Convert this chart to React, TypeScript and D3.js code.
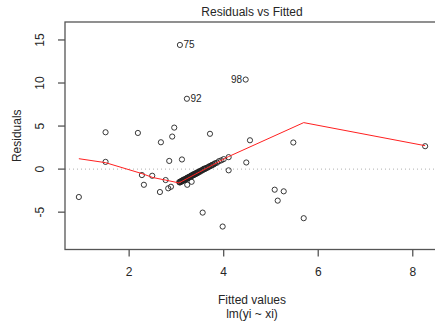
import React from "react";
import * as d3 from "d3";

// Fitted values and residuals
const fitted: number[] = [
  3.074, 3.222, 4.465, 1.501, 2.185, 2.672, 2.911, 2.954, 3.71, 1.501,
  2.848, 3.117, 4.556, 5.473, 8.262, 4.478, 4.105, 4.105, 0.936, 2.27,
  2.312, 2.488, 2.651, 2.772, 2.827, 2.884, 3.555, 3.978, 5.079, 5.27,
  5.143, 5.693, 3.229, 3.322,
  3.06, 3.08, 3.1, 3.11, 3.13, 3.15, 3.16, 3.18, 3.2, 3.22,
  3.24, 3.25, 3.27, 3.29, 3.31, 3.33, 3.35, 3.37, 3.39, 3.41,
  3.43, 3.45, 3.47, 3.5, 3.52, 3.55, 3.57, 3.6, 3.63, 3.66,
  3.69, 3.72, 3.75, 3.78, 3.82, 3.86, 3.9, 3.95, 4.0,
  3.07, 3.09, 3.12, 3.14, 3.17, 3.19, 3.21, 3.23, 3.26, 3.28,
  3.3, 3.32, 3.34, 3.36, 3.38, 3.4, 3.42, 3.44, 3.46, 3.49,
  3.53, 3.58, 3.62, 3.68, 3.74, 3.8,
];
const residuals: number[] = [
  14.42, 8.17, 10.4, 4.28, 4.2, 3.12, 3.78, 4.82, 4.1, 0.84,
  0.95, 1.12, 3.35, 3.09, 2.66, 0.77, 1.39, -0.14, -3.24, -0.69,
  -1.82, -0.77, -2.66, -1.27, -2.23, -2.05, -5.05, -6.67, -2.39, -2.58,
  -3.66, -5.7, -1.82, -1.47,
  -1.5, -1.52, -1.38, -1.45, -1.3, -1.33, -1.2, -1.24, -1.1, -1.12,
  -0.98, -1.04, -0.9, -0.92, -0.78, -0.8, -0.66, -0.69, -0.55, -0.57,
  -0.44, -0.45, -0.32, -0.3, -0.17, -0.15, -0.03, 0.0, 0.14, 0.17,
  0.31, 0.35, 0.48, 0.52, 0.68, 0.75, 0.92, 1.02, 1.16,
  -1.55, -1.44, -1.4, -1.27, -1.26, -1.16, -1.17, -1.0, -0.99, -0.86,
  -0.85, -0.72, -0.74, -0.6, -0.63, -0.5, -0.52, -0.38, -0.4, -0.24,
  -0.14, 0.04, 0.08, 0.25, 0.42, 0.6,
];
// Labelled observations: index into arrays, label, side
const labelIndex: number[] = [0, 1, 2];
const labelText: string[] = ["75", "92", "98"];
const labelSide: string[] = ["right", "right", "left"];

// Smoother (red line)
const smoothX: number[] = [0.936, 1.501, 2.27, 2.503, 2.767, 3.053, 4.101, 5.693, 8.262];
const smoothY: number[] = [1.21, 0.75, -0.52, -0.98, -1.27, -1.6, 1.45, 5.4, 2.72];

const xTicks: number[] = [2, 4, 6, 8];
const yTicks: number[] = [-5, 0, 5, 10, 15];

const title = "Residuals vs Fitted";
const xLabel = "Fitted values";
const subLabel = "lm(yi ~ xi)";
const yLabel = "Residuals";

function ext(lo: number, hi: number, f: number): [number, number] {
  const d = (hi - lo) * f;
  return [lo - d, hi + d];
}

export default function App() {
  const W = 435, H = 323;
  const left = 65, right = 439, top = 22, bottom = 249.5;
  const font = "'Liberation Sans', Arial, sans-serif";
  const txt = "#262626";

  const xDom = ext(d3.min(fitted)!, d3.max(fitted)!, 0.04);
  const yBase = ext(d3.min(residuals)!, d3.max(residuals)!, 0.08);
  const yDom = ext(yBase[0], yBase[1], 0.04);
  const x = d3.scaleLinear().domain(xDom).range([left, right]);
  const y = d3.scaleLinear().domain(yDom).range([bottom, top]);

  const line = d3
    .line<number>()
    .x((_, i) => x(smoothX[i]))
    .y((_, i) => y(smoothY[i]));

  const cx = (left + right) / 2;
  const cy = (top + bottom) / 2;

  return (
    <svg
      width={W}
      height={H}
      style={{ position: "absolute", left: 0, top: 0, background: "#fff" }}
      fontFamily={font}
    >
      <rect x={0} y={0} width={W} height={H} fill="#fff" />
      <text x={cx} y={16} textAnchor="middle" fontSize={12} fill={txt}>
        {title}
      </text>
      {/* zero reference line */}
      <line
        x1={left}
        x2={right}
        y1={y(0)}
        y2={y(0)}
        stroke="#b0b0b0"
        strokeWidth={1}
        strokeDasharray="1,3"
      />
      {/* points */}
      {fitted.map((fx, i) => (
        <circle
          key={i}
          cx={x(fx)}
          cy={y(residuals[i])}
          r={2.6}
          fill="none"
          stroke="#222"
          strokeWidth={0.9}
        />
      ))}
      {/* smoother */}
      <path d={line(smoothX) || ""} fill="none" stroke="#ff2020" strokeWidth={1} />
      {/* point labels */}
      {labelIndex.map((idx, k) => (
        <text
          key={k}
          x={x(fitted[idx]) + (labelSide[k] === "right" ? 3.5 : -3.5)}
          y={y(residuals[idx]) + 3.5}
          textAnchor={labelSide[k] === "right" ? "start" : "end"}
          fontSize={10}
          fill={txt}
        >
          {labelText[k]}
        </text>
      ))}
      {/* box */}
      <rect
        x={left}
        y={top}
        width={right - left}
        height={bottom - top}
        fill="none"
        stroke="#555"
        strokeWidth={1.3}
      />
      {/* x axis */}
      {xTicks.map((t) => (
        <g key={t}>
          <line x1={x(t)} x2={x(t)} y1={bottom} y2={bottom + 7} stroke="#555" strokeWidth={1.3} />
          <text x={x(t)} y={bottom + 26} textAnchor="middle" fontSize={12} fill={txt}>
            {t}
          </text>
        </g>
      ))}
      {/* y axis */}
      {yTicks.map((t) => (
        <g key={t}>
          <line x1={left - 7} x2={left} y1={y(t)} y2={y(t)} stroke="#555" strokeWidth={1.3} />
          <text
            transform={`translate(${left - 21},${y(t)}) rotate(-90)`}
            textAnchor="middle"
            fontSize={12}
            fill={txt}
          >
            {t}
          </text>
        </g>
      ))}
      <text x={cx} y={304} textAnchor="middle" fontSize={12} fill={txt}>
        {xLabel}
      </text>
      <text x={cx} y={318} textAnchor="middle" fontSize={12} fill={txt}>
        {subLabel}
      </text>
      <text
        transform={`translate(21,${cy}) rotate(-90)`}
        textAnchor="middle"
        fontSize={12}
        fill={txt}
      >
        {yLabel}
      </text>
    </svg>
  );
}
